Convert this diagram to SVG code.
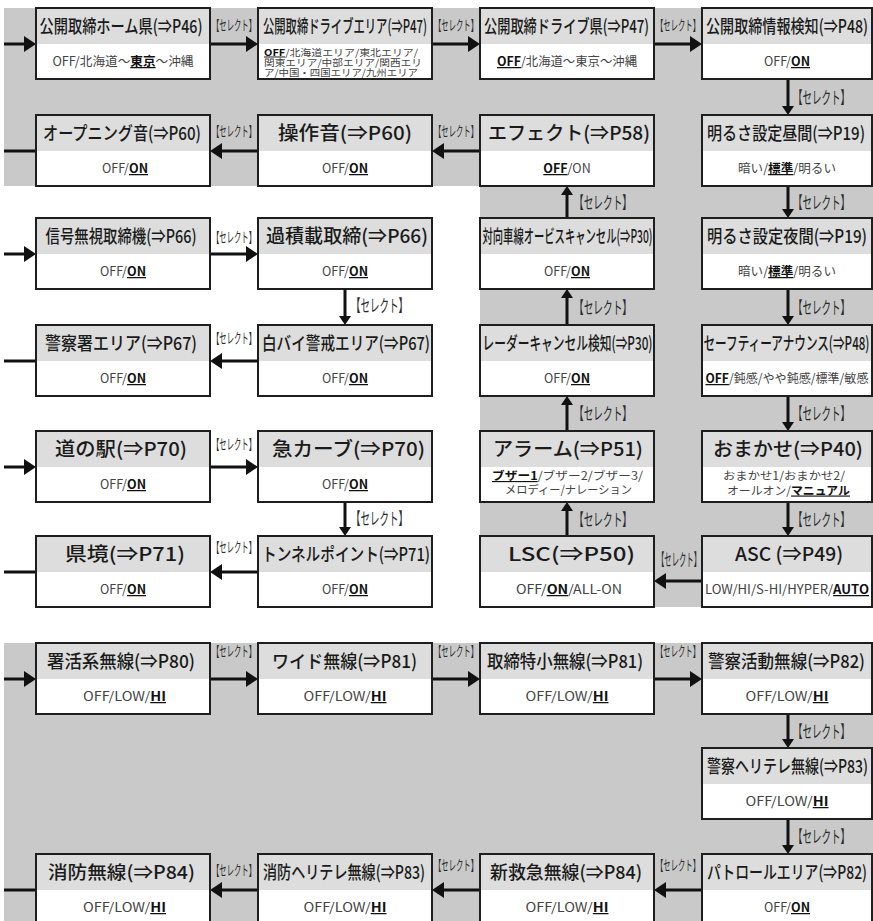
<svg xmlns="http://www.w3.org/2000/svg" width="873" height="921" viewBox="0 0 873 921">
<style>
.bg{fill:#c9c9c9}
.bx{fill:#fff;stroke:#1e1e1e;stroke-width:2}
.hd{fill:#dcdddc}
.ol{fill:none;stroke:#1e1e1e;stroke-width:2}
.h{font-family:"Noto Sans CJK JP","Noto Sans",sans-serif;font-size:18px;font-weight:500;fill:#1a1a1a;text-anchor:middle}
.hl{font-size:19px}
.b{font-family:"Noto Sans CJK JP","Noto Sans",sans-serif;font-size:12.5px;fill:#444;text-anchor:middle}
.bs{font-family:"Noto Sans CJK JP","Noto Sans",sans-serif;font-size:9.5px;fill:#444}
.u{font-weight:700;fill:#111;text-decoration:underline}
.l{font-family:"Noto Sans CJK JP","Noto Sans",sans-serif;font-size:14px;fill:#2a2a2a}
.lv{font-family:"Noto Sans CJK JP","Noto Sans",sans-serif;font-size:17px;fill:#2a2a2a}
.c{fill:none;stroke:#111;stroke-width:3}
.rh{marker-end:url(#ah)}
.rv{marker-end:url(#av)}
</style>
<defs>
<marker id="ah" markerUnits="userSpaceOnUse" markerWidth="13" markerHeight="16" refX="6" refY="8" orient="auto"><path d="M0,0 L12,8 L0,16 z" fill="#111"/></marker>
<marker id="av" markerUnits="userSpaceOnUse" markerWidth="10" markerHeight="12" refX="4" refY="6" orient="auto"><path d="M0,0 L9,6 L0,12 z" fill="#111"/></marker>
</defs>
<g id="background">
<polygon class="bg" points="4,8 873,8 873,607 480,607 480,186 4,186"/>
<rect class="bg" x="4" y="643" width="869" height="278"/>
</g>
<g id="connectors">
<line class="c rh" x1="4" y1="44" x2="30" y2="44"/>
<line class="c rh" x1="210" y1="44" x2="252" y2="44"/>
<line class="c rh" x1="432" y1="44" x2="474" y2="44"/>
<line class="c rh" x1="654" y1="44" x2="696" y2="44"/>
<line class="c rv" x1="788" y1="79" x2="788" y2="110"/>
<line class="c rv" x1="788" y1="186" x2="788" y2="213"/>
<line class="c rv" x1="788" y1="289" x2="788" y2="320"/>
<line class="c rv" x1="788" y1="396" x2="788" y2="426"/>
<line class="c rv" x1="788" y1="502" x2="788" y2="531"/>
<line class="c rh" x1="702" y1="581" x2="660" y2="581"/>
<line class="c rv" x1="567" y1="536" x2="567" y2="507"/>
<line class="c rv" x1="567" y1="431" x2="567" y2="401"/>
<line class="c rv" x1="567" y1="325" x2="567" y2="294"/>
<line class="c rv" x1="567" y1="218" x2="567" y2="191"/>
<line class="c rh" x1="480" y1="151" x2="438" y2="151"/>
<line class="c rh" x1="258" y1="151" x2="216" y2="151"/>
<line class="c" x1="36" y1="151" x2="4" y2="151"/>
<line class="c rh" x1="4" y1="254" x2="30" y2="254"/>
<line class="c rh" x1="210" y1="254" x2="252" y2="254"/>
<line class="c rv" x1="345" y1="289" x2="345" y2="320"/>
<line class="c rh" x1="258" y1="361" x2="216" y2="361"/>
<line class="c" x1="36" y1="361" x2="4" y2="361"/>
<line class="c rh" x1="4" y1="467" x2="30" y2="467"/>
<line class="c rh" x1="210" y1="467" x2="252" y2="467"/>
<line class="c rv" x1="345" y1="502" x2="345" y2="531"/>
<line class="c rh" x1="258" y1="572" x2="216" y2="572"/>
<line class="c" x1="36" y1="572" x2="4" y2="572"/>
<line class="c rh" x1="4" y1="679" x2="30" y2="679"/>
<line class="c rh" x1="210" y1="679" x2="252" y2="679"/>
<line class="c rh" x1="432" y1="679" x2="474" y2="679"/>
<line class="c rh" x1="654" y1="679" x2="696" y2="679"/>
<line class="c rv" x1="788" y1="714" x2="788" y2="743"/>
<line class="c rv" x1="788" y1="819" x2="788" y2="849"/>
<line class="c rh" x1="702" y1="890" x2="660" y2="890"/>
<line class="c rh" x1="480" y1="890" x2="438" y2="890"/>
<line class="c rh" x1="258" y1="890" x2="216" y2="890"/>
<line class="c" x1="36" y1="890" x2="4" y2="890"/>
<g id="labels">
<text class="l" x="212" y="30" textLength="44" lengthAdjust="spacingAndGlyphs">【セレクト】</text>
<text class="l" x="434" y="30" textLength="44" lengthAdjust="spacingAndGlyphs">【セレクト】</text>
<text class="l" x="656" y="30" textLength="44" lengthAdjust="spacingAndGlyphs">【セレクト】</text>
<text class="lv" x="793" y="103.5" textLength="57" lengthAdjust="spacingAndGlyphs">【セレクト】</text>
<text class="l" x="212" y="135.5" textLength="44" lengthAdjust="spacingAndGlyphs">【セレクト】</text>
<text class="l" x="434" y="135.5" textLength="44" lengthAdjust="spacingAndGlyphs">【セレクト】</text>
<text class="lv" x="574" y="208.5" textLength="58" lengthAdjust="spacingAndGlyphs">【セレクト】</text>
<text class="lv" x="793" y="208.5" textLength="57" lengthAdjust="spacingAndGlyphs">【セレクト】</text>
<text class="l" x="212" y="242" textLength="44" lengthAdjust="spacingAndGlyphs">【セレクト】</text>
<text class="lv" x="351" y="311.5" textLength="57" lengthAdjust="spacingAndGlyphs">【セレクト】</text>
<text class="lv" x="574" y="313.5" textLength="58" lengthAdjust="spacingAndGlyphs">【セレクト】</text>
<text class="lv" x="793" y="313.5" textLength="57" lengthAdjust="spacingAndGlyphs">【セレクト】</text>
<text class="l" x="212" y="343" textLength="44" lengthAdjust="spacingAndGlyphs">【セレクト】</text>
<text class="lv" x="574" y="420" textLength="58" lengthAdjust="spacingAndGlyphs">【セレクト】</text>
<text class="lv" x="793" y="420" textLength="57" lengthAdjust="spacingAndGlyphs">【セレクト】</text>
<text class="l" x="212" y="448.5" textLength="44" lengthAdjust="spacingAndGlyphs">【セレクト】</text>
<text class="lv" x="351" y="525" textLength="57" lengthAdjust="spacingAndGlyphs">【セレクト】</text>
<text class="lv" x="574" y="525.5" textLength="58" lengthAdjust="spacingAndGlyphs">【セレクト】</text>
<text class="lv" x="793" y="525.5" textLength="57" lengthAdjust="spacingAndGlyphs">【セレクト】</text>
<text class="l" x="212" y="551.5" textLength="44" lengthAdjust="spacingAndGlyphs">【セレクト】</text>
<text class="lv" x="657" y="566" textLength="44" lengthAdjust="spacingAndGlyphs">【セレクト】</text>
<text class="l" x="212" y="655.5" textLength="44" lengthAdjust="spacingAndGlyphs">【セレクト】</text>
<text class="l" x="434" y="655.5" textLength="44" lengthAdjust="spacingAndGlyphs">【セレクト】</text>
<text class="l" x="656" y="655.5" textLength="44" lengthAdjust="spacingAndGlyphs">【セレクト】</text>
<text class="lv" x="793" y="737.5" textLength="57" lengthAdjust="spacingAndGlyphs">【セレクト】</text>
<text class="lv" x="793" y="843" textLength="57" lengthAdjust="spacingAndGlyphs">【セレクト】</text>
<text class="l" x="656" y="870" textLength="44" lengthAdjust="spacingAndGlyphs">【セレクト】</text>
<text class="l" x="434" y="870" textLength="44" lengthAdjust="spacingAndGlyphs">【セレクト】</text>
<text class="l" x="212" y="875" textLength="44" lengthAdjust="spacingAndGlyphs">【セレクト】</text>
</g>
</g>
<g id="n1"><rect class="bx" x="36" y="8" width="174" height="71"/><rect class="hd" x="37" y="9" width="172" height="35"/><rect class="ol" x="36" y="8" width="174" height="71"/>
<text class="h" x="121" y="33" textLength="163" lengthAdjust="spacingAndGlyphs">公開取締ホーム県(⇒P46)</text>
<text class="b" x="123" y="66" textLength="141" lengthAdjust="spacingAndGlyphs">OFF/北海道～<tspan class="u">東京</tspan>～沖縄</text></g>
<g id="n2"><rect class="bx" x="258" y="8" width="174" height="71"/><rect class="hd" x="259" y="9" width="172" height="35"/><rect class="ol" x="258" y="8" width="174" height="71"/>
<text class="h" x="345" y="33" textLength="164" lengthAdjust="spacingAndGlyphs">公開取締ドライブエリア(⇒P47)</text>
<text class="bs" x="264" y="55.5" textLength="154" lengthAdjust="spacingAndGlyphs"><tspan class="u">OFF</tspan>/北海道エリア/東北エリア/</text>
<text class="bs" x="264" y="65.5" textLength="158" lengthAdjust="spacingAndGlyphs">関東エリア/中部エリア/関西エリ</text>
<text class="bs" x="264" y="75.5" textLength="154" lengthAdjust="spacingAndGlyphs">ア/中国・四国エリア/九州エリア</text></g>
<g id="n3"><rect class="bx" x="480" y="8" width="174" height="71"/><rect class="hd" x="481" y="9" width="172" height="35"/><rect class="ol" x="480" y="8" width="174" height="71"/>
<text class="h" x="566.5" y="33" textLength="165" lengthAdjust="spacingAndGlyphs">公開取締ドライブ県(⇒P47)</text>
<text class="b" x="567" y="66" textLength="140" lengthAdjust="spacingAndGlyphs"><tspan class="u">OFF</tspan>/北海道～東京～沖縄</text></g>
<g id="n4"><rect class="bx" x="702" y="8" width="170" height="71"/><rect class="hd" x="703" y="9" width="168" height="35"/><rect class="ol" x="702" y="8" width="170" height="71"/>
<text class="h" x="787" y="33" textLength="162" lengthAdjust="spacingAndGlyphs">公開取締情報検知(⇒P48)</text>
<text class="b" x="787" y="66">OFF/<tspan class="u">ON</tspan></text></g>
<g id="n5"><rect class="bx" x="36" y="115" width="174" height="71"/><rect class="hd" x="37" y="116" width="172" height="35"/><rect class="ol" x="36" y="115" width="174" height="71"/>
<text class="h" x="122" y="140" textLength="158" lengthAdjust="spacingAndGlyphs">オープニング音(⇒P60)</text>
<text class="b" x="125" y="173">OFF/<tspan class="u">ON</tspan></text></g>
<g id="n6"><rect class="bx" x="258" y="115" width="174" height="71"/><rect class="hd" x="259" y="116" width="172" height="35"/><rect class="ol" x="258" y="115" width="174" height="71"/>
<text class="h hl" x="345" y="140" textLength="134" lengthAdjust="spacingAndGlyphs">操作音(⇒P60)</text>
<text class="b" x="345" y="173">OFF/<tspan class="u">ON</tspan></text></g>
<g id="n7"><rect class="bx" x="480" y="115" width="174" height="71"/><rect class="hd" x="481" y="116" width="172" height="35"/><rect class="ol" x="480" y="115" width="174" height="71"/>
<text class="h hl" x="569" y="140" textLength="162" lengthAdjust="spacingAndGlyphs">エフェクト(⇒P58)</text>
<text class="b" x="567" y="173"><tspan class="u">OFF</tspan>/ON</text></g>
<g id="n8"><rect class="bx" x="702" y="115" width="170" height="71"/><rect class="hd" x="703" y="116" width="168" height="35"/><rect class="ol" x="702" y="115" width="170" height="71"/>
<text class="h" x="786" y="140" textLength="158" lengthAdjust="spacingAndGlyphs">明るさ設定昼間(⇒P19)</text>
<text class="b" x="787" y="173" textLength="98" lengthAdjust="spacingAndGlyphs">暗い/<tspan class="u">標準</tspan>/明るい</text></g>
<g id="n9"><rect class="bx" x="36" y="218" width="174" height="71"/><rect class="hd" x="37" y="219" width="172" height="35"/><rect class="ol" x="36" y="218" width="174" height="71"/>
<text class="h" x="121" y="243" textLength="151" lengthAdjust="spacingAndGlyphs">信号無視取締機(⇒P66)</text>
<text class="b" x="123" y="276">OFF/<tspan class="u">ON</tspan></text></g>
<g id="n10"><rect class="bx" x="258" y="218" width="174" height="71"/><rect class="hd" x="259" y="219" width="172" height="35"/><rect class="ol" x="258" y="218" width="174" height="71"/>
<text class="h hl" x="347" y="243" textLength="162" lengthAdjust="spacingAndGlyphs">過積載取締(⇒P66)</text>
<text class="b" x="345" y="276">OFF/<tspan class="u">ON</tspan></text></g>
<g id="n11"><rect class="bx" x="480" y="218" width="174" height="71"/><rect class="hd" x="481" y="219" width="172" height="35"/><rect class="ol" x="480" y="218" width="174" height="71"/>
<text class="h" x="567.5" y="243" textLength="170" lengthAdjust="spacingAndGlyphs">対向車線オービスキャンセル(⇒P30)</text>
<text class="b" x="567" y="276">OFF/<tspan class="u">ON</tspan></text></g>
<g id="n12"><rect class="bx" x="702" y="218" width="170" height="71"/><rect class="hd" x="703" y="219" width="168" height="35"/><rect class="ol" x="702" y="218" width="170" height="71"/>
<text class="h" x="787" y="243" textLength="160" lengthAdjust="spacingAndGlyphs">明るさ設定夜間(⇒P19)</text>
<text class="b" x="787" y="276" textLength="98" lengthAdjust="spacingAndGlyphs">暗い/<tspan class="u">標準</tspan>/明るい</text></g>
<g id="n13"><rect class="bx" x="36" y="325" width="174" height="71"/><rect class="hd" x="37" y="326" width="172" height="35"/><rect class="ol" x="36" y="325" width="174" height="71"/>
<text class="h" x="121" y="350" textLength="152" lengthAdjust="spacingAndGlyphs">警察署エリア(⇒P67)</text>
<text class="b" x="123" y="383">OFF/<tspan class="u">ON</tspan></text></g>
<g id="n14"><rect class="bx" x="258" y="325" width="174" height="71"/><rect class="hd" x="259" y="326" width="172" height="35"/><rect class="ol" x="258" y="325" width="174" height="71"/>
<text class="h" x="346" y="350" textLength="168" lengthAdjust="spacingAndGlyphs">白バイ警戒エリア(⇒P67)</text>
<text class="b" x="345" y="383">OFF/<tspan class="u">ON</tspan></text></g>
<g id="n15"><rect class="bx" x="480" y="325" width="174" height="71"/><rect class="hd" x="481" y="326" width="172" height="35"/><rect class="ol" x="480" y="325" width="174" height="71"/>
<text class="h" x="567.5" y="350" textLength="170" lengthAdjust="spacingAndGlyphs">レーダーキャンセル検知(⇒P30)</text>
<text class="b" x="567" y="383">OFF/<tspan class="u">ON</tspan></text></g>
<g id="n16"><rect class="bx" x="702" y="325" width="170" height="71"/><rect class="hd" x="703" y="326" width="168" height="35"/><rect class="ol" x="702" y="325" width="170" height="71"/>
<text class="h" x="786.5" y="350" textLength="166" lengthAdjust="spacingAndGlyphs">セーフティーアナウンス(⇒P48)</text>
<text class="b" x="787" y="383" textLength="163" lengthAdjust="spacingAndGlyphs"><tspan class="u">OFF</tspan>/鈍感/やや鈍感/標準/敏感</text></g>
<g id="n17"><rect class="bx" x="36" y="431" width="174" height="71"/><rect class="hd" x="37" y="432" width="172" height="35"/><rect class="ol" x="36" y="431" width="174" height="71"/>
<text class="h hl" x="121" y="456" textLength="132" lengthAdjust="spacingAndGlyphs">道の駅(⇒P70)</text>
<text class="b" x="123" y="489">OFF/<tspan class="u">ON</tspan></text></g>
<g id="n18"><rect class="bx" x="258" y="431" width="174" height="71"/><rect class="hd" x="259" y="432" width="172" height="35"/><rect class="ol" x="258" y="431" width="174" height="71"/>
<text class="h hl" x="348.5" y="456" textLength="153" lengthAdjust="spacingAndGlyphs">急カーブ(⇒P70)</text>
<text class="b" x="345" y="489">OFF/<tspan class="u">ON</tspan></text></g>
<g id="n19"><rect class="bx" x="480" y="431" width="174" height="71"/><rect class="hd" x="481" y="432" width="172" height="35"/><rect class="ol" x="480" y="431" width="174" height="71"/>
<text class="h hl" x="568" y="456" textLength="150" lengthAdjust="spacingAndGlyphs">アラーム(⇒P51)</text>
<text class="b" x="567.5" y="480" style="font-size:11.5px" textLength="151" lengthAdjust="spacingAndGlyphs"><tspan class="u">ブザー1</tspan>/ブザー2/ブザー3/</text>
<text class="b" x="568.5" y="493.5" style="font-size:11.5px" textLength="127" lengthAdjust="spacingAndGlyphs">メロディー/ナレーション</text></g>
<g id="n20"><rect class="bx" x="702" y="431" width="170" height="71"/><rect class="hd" x="703" y="432" width="168" height="35"/><rect class="ol" x="702" y="431" width="170" height="71"/>
<text class="h hl" x="788" y="456" textLength="150" lengthAdjust="spacingAndGlyphs">おまかせ(⇒P40)</text>
<text class="b" x="784" y="480" style="font-size:11.5px" textLength="122" lengthAdjust="spacingAndGlyphs">おまかせ1/おまかせ2/</text>
<text class="b" x="788.5" y="494.5" style="font-size:11.5px" textLength="123" lengthAdjust="spacingAndGlyphs">オールオン/<tspan class="u">マニュアル</tspan></text></g>
<g id="n21"><rect class="bx" x="36" y="536" width="174" height="71"/><rect class="hd" x="37" y="537" width="172" height="35"/><rect class="ol" x="36" y="536" width="174" height="71"/>
<text class="h hl" x="125" y="561" textLength="120" lengthAdjust="spacingAndGlyphs">県境(⇒P71)</text>
<text class="b" x="123" y="594">OFF/<tspan class="u">ON</tspan></text></g>
<g id="n22"><rect class="bx" x="258" y="536" width="174" height="71"/><rect class="hd" x="259" y="537" width="172" height="35"/><rect class="ol" x="258" y="536" width="174" height="71"/>
<text class="h" x="346" y="561" textLength="168" lengthAdjust="spacingAndGlyphs">トンネルポイント(⇒P71)</text>
<text class="b" x="345" y="594">OFF/<tspan class="u">ON</tspan></text></g>
<g id="n23"><rect class="bx" x="480" y="536" width="174" height="71"/><rect class="hd" x="481" y="537" width="172" height="35"/><rect class="ol" x="480" y="536" width="174" height="71"/>
<text class="h hl" x="571.5" y="561" textLength="127" lengthAdjust="spacingAndGlyphs">LSC(⇒P50)</text>
<text class="b" x="569" y="594" textLength="106" lengthAdjust="spacingAndGlyphs">OFF/<tspan class="u">ON</tspan>/ALL-ON</text></g>
<g id="n24"><rect class="bx" x="702" y="536" width="170" height="71"/><rect class="hd" x="703" y="537" width="168" height="35"/><rect class="ol" x="702" y="536" width="170" height="71"/>
<text class="h hl" x="789" y="561" textLength="108" lengthAdjust="spacingAndGlyphs">ASC (⇒P49)</text>
<text class="b" x="787" y="594" textLength="164" lengthAdjust="spacingAndGlyphs">LOW/HI/S-HI/HYPER/<tspan class="u">AUTO</tspan></text></g>
<g id="n25"><rect class="bx" x="36" y="643" width="174" height="71"/><rect class="hd" x="37" y="644" width="172" height="35"/><rect class="ol" x="36" y="643" width="174" height="71"/>
<text class="h" x="121" y="668" textLength="148" lengthAdjust="spacingAndGlyphs">署活系無線(⇒P80)</text>
<text class="b" x="124.5" y="701" textLength="83" lengthAdjust="spacingAndGlyphs">OFF/LOW/<tspan class="u">HI</tspan></text></g>
<g id="n26"><rect class="bx" x="258" y="643" width="174" height="71"/><rect class="hd" x="259" y="644" width="172" height="35"/><rect class="ol" x="258" y="643" width="174" height="71"/>
<text class="h" x="344.5" y="668" textLength="145" lengthAdjust="spacingAndGlyphs">ワイド無線(⇒P81)</text>
<text class="b" x="345" y="701" textLength="83" lengthAdjust="spacingAndGlyphs">OFF/LOW/<tspan class="u">HI</tspan></text></g>
<g id="n27"><rect class="bx" x="480" y="643" width="174" height="71"/><rect class="hd" x="481" y="644" width="172" height="35"/><rect class="ol" x="480" y="643" width="174" height="71"/>
<text class="h" x="565" y="668" textLength="156" lengthAdjust="spacingAndGlyphs">取締特小無線(⇒P81)</text>
<text class="b" x="567" y="701" textLength="83" lengthAdjust="spacingAndGlyphs">OFF/LOW/<tspan class="u">HI</tspan></text></g>
<g id="n28"><rect class="bx" x="702" y="643" width="170" height="71"/><rect class="hd" x="703" y="644" width="168" height="35"/><rect class="ol" x="702" y="643" width="170" height="71"/>
<text class="h" x="786.5" y="668" textLength="157" lengthAdjust="spacingAndGlyphs">警察活動無線(⇒P82)</text>
<text class="b" x="787" y="701" textLength="83" lengthAdjust="spacingAndGlyphs">OFF/LOW/<tspan class="u">HI</tspan></text></g>
<g id="n29"><rect class="bx" x="702" y="748" width="170" height="71"/><rect class="hd" x="703" y="749" width="168" height="35"/><rect class="ol" x="702" y="748" width="170" height="71"/>
<text class="h" x="787.5" y="773" textLength="161" lengthAdjust="spacingAndGlyphs">警察ヘリテレ無線(⇒P83)</text>
<text class="b" x="787" y="806" textLength="83" lengthAdjust="spacingAndGlyphs">OFF/LOW/<tspan class="u">HI</tspan></text></g>
<g id="n30"><rect class="bx" x="702" y="854" width="170" height="71"/><rect class="hd" x="703" y="855" width="168" height="35"/><rect class="ol" x="702" y="854" width="170" height="71"/>
<text class="h" x="787" y="879" textLength="160" lengthAdjust="spacingAndGlyphs">パトロールエリア(⇒P82)</text>
<text class="b" x="787" y="912">OFF/<tspan class="u">ON</tspan></text></g>
<g id="n31"><rect class="bx" x="480" y="854" width="174" height="71"/><rect class="hd" x="481" y="855" width="172" height="35"/><rect class="ol" x="480" y="854" width="174" height="71"/>
<text class="h" x="566" y="879" textLength="152" lengthAdjust="spacingAndGlyphs">新救急無線(⇒P84)</text>
<text class="b" x="567" y="912" textLength="83" lengthAdjust="spacingAndGlyphs">OFF/LOW/<tspan class="u">HI</tspan></text></g>
<g id="n32"><rect class="bx" x="258" y="854" width="174" height="71"/><rect class="hd" x="259" y="855" width="172" height="35"/><rect class="ol" x="258" y="854" width="174" height="71"/>
<text class="h" x="344" y="879" textLength="162" lengthAdjust="spacingAndGlyphs">消防ヘリテレ無線(⇒P83)</text>
<text class="b" x="345" y="912" textLength="83" lengthAdjust="spacingAndGlyphs">OFF/LOW/<tspan class="u">HI</tspan></text></g>
<g id="n33"><rect class="bx" x="36" y="854" width="174" height="71"/><rect class="hd" x="37" y="855" width="172" height="35"/><rect class="ol" x="36" y="854" width="174" height="71"/>
<text class="h" x="121.5" y="879" textLength="147" lengthAdjust="spacingAndGlyphs">消防無線(⇒P84)</text>
<text class="b" x="124.5" y="912" textLength="83" lengthAdjust="spacingAndGlyphs">OFF/LOW/<tspan class="u">HI</tspan></text></g>
</svg>
